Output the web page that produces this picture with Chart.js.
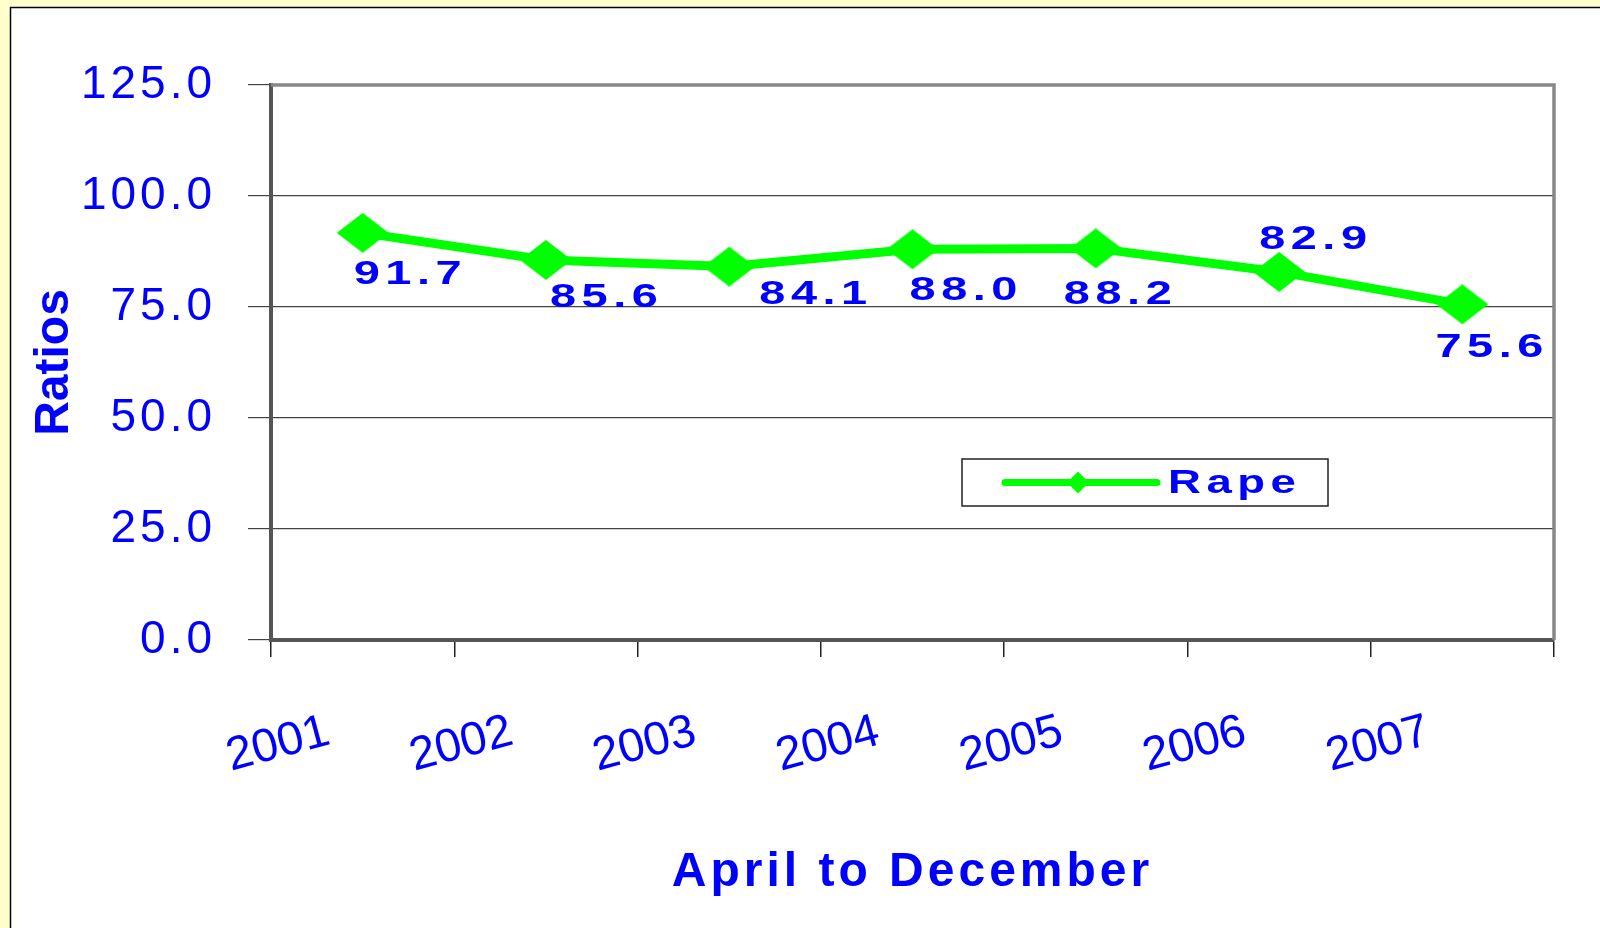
<!DOCTYPE html>
<html>
<head>
<meta charset="utf-8">
<title>Rape ratios, April to December</title>
<script src="https://cdn.jsdelivr.net/npm/chart.js@4.4.1/dist/chart.umd.min.js"></script>
<style>
  html, body { margin: 0; padding: 0; background: #FFFFCC; }
  canvas { display: block; }
</style>
</head>
<body>
<canvas id="ratioChart" width="1600" height="928"></canvas>
<script>
// ===== Data =====
const years = ['2001', '2002', '2003', '2004', '2005', '2006', '2007'];
const rapeRatios = [91.7, 85.6, 84.1, 88.0, 88.2, 82.9, 75.6];
const yTicks = [0, 25, 50, 75, 100, 125];

// label nudges (px) from each point, like the hand-placed labels in the original
const labelNudges = [[45, 42], [58, 38], [84, 28], [51, 41], [22, 46], [34, -32], [27, 43]];

const BLUE = '#0000FF';
const GREEN = '#00FF00';
const FONT = '"Liberation Sans", Arial, sans-serif';

// ===== Diamond marker (a little wider than tall) =====
function makeDiamond(w, h) {
    const c = document.createElement('canvas');
    c.width = w; c.height = h;
    const g = c.getContext('2d');
    g.fillStyle = GREEN;
    g.beginPath();
    g.moveTo(w / 2, 0);
    g.lineTo(w, h / 2);
    g.lineTo(w / 2, h);
    g.lineTo(0, h / 2);
    g.closePath();
    g.fill();
    return c;
}
const bigDiamond = makeDiamond(52, 40);

// Excel stretched its bold labels sideways; do the same here
function wideText(ctx, text, cx, cy, stretch, spacing, align) {
    ctx.save();
    ctx.translate(cx, cy);
    ctx.scale(stretch, 1);
    ctx.letterSpacing = spacing + 'px';
    ctx.textAlign = align;
    ctx.textBaseline = 'middle';
    const shift = align === 'center' ? spacing / 2 : 0;
    ctx.fillText(text, shift, 0);
    ctx.restore();
}

// ===== Plugins =====
// small layers slotted between the scale layers, to switch letter spacing:
// x title (grid z -2) spaced, y title (grid z -1) tight, y ticks (z 0) spaced
const spacingSteps = {
    id: 'spacingSteps',
    beforeInit(chart) {
        [[-1.5, '0px'], [-0.5, '4px']].forEach(([z, spacing]) => {
            Chart.layouts.addBox(chart, {
                position: 'chartArea',
                weight: 0,
                fullSize: false,
                options: {},
                isHorizontal() { return false; },
                update() {},
                draw() {},
                _layers() {
                    return [{z: z, draw: () => { chart.ctx.letterSpacing = spacing; }}];
                }
            });
        });
    }
};

const panelBackground = {
    id: 'panelBackground',
    beforeDraw(chart) {
        const ctx = chart.ctx;
        ctx.save();
        ctx.fillStyle = '#FFFFCC';
        ctx.fillRect(0, 0, chart.width, chart.height);
        ctx.fillStyle = '#FFFFFF';
        ctx.fillRect(10.5, 7.5, chart.width, chart.height);
        ctx.strokeStyle = '#000000';
        ctx.lineWidth = 1.5;
        ctx.strokeRect(10.5, 7.5, chart.width + 10, chart.height + 10);
        ctx.restore();
        ctx.letterSpacing = '4px';
    }
};

const plotFrame = {
    id: 'plotFrame',
    beforeDatasetsDraw(chart) {
        const {ctx, chartArea: a} = chart;
        ctx.save();
        ctx.strokeStyle = '#888888';
        ctx.lineWidth = 3.5;
        ctx.beginPath();
        ctx.moveTo(a.left, a.top);
        ctx.lineTo(a.right, a.top);
        ctx.lineTo(a.right, a.bottom);
        ctx.stroke();
        ctx.restore();
    },
    afterDatasetsDraw(chart) {
        // x tick labels (z: 1) come after this, with normal spacing
        chart.ctx.letterSpacing = '0px';
    }
};

const valueLabels = {
    id: 'valueLabels',
    afterDatasetsDraw(chart) {
        const ctx = chart.ctx;
        const meta = chart.getDatasetMeta(0);
        ctx.save();
        ctx.font = 'bold 34px ' + FONT;
        ctx.fillStyle = BLUE;
        meta.data.forEach((pt, i) => {
            const [dx, dy] = labelNudges[i];
            wideText(ctx, rapeRatios[i].toFixed(1), pt.x + dx, pt.y + dy, 1.38, 4, 'center');
        });
        ctx.restore();
    }
};

const boxLegend = {
    id: 'boxLegend',
    afterDraw(chart) {
        const ctx = chart.ctx;
        const ds = chart.data.datasets[0];
        const box = {x: 962, y: 459, w: 366, h: 47};
        const midY = box.y + box.h / 2;
        ctx.save();
        ctx.strokeStyle = '#222222';
        ctx.lineWidth = 1.5;
        ctx.strokeRect(box.x, box.y, box.w, box.h);
        ctx.strokeStyle = ds.borderColor;
        ctx.lineWidth = 7;
        ctx.lineCap = 'round';
        ctx.beginPath();
        ctx.moveTo(box.x + 43, midY);
        ctx.lineTo(box.x + 195, midY);
        ctx.stroke();
        ctx.fillStyle = ds.borderColor;
        ctx.beginPath();
        ctx.moveTo(box.x + 116, midY - 11);
        ctx.lineTo(box.x + 127, midY);
        ctx.lineTo(box.x + 116, midY + 11);
        ctx.lineTo(box.x + 105, midY);
        ctx.closePath();
        ctx.fill();
        ctx.font = 'bold 33px ' + FONT;
        ctx.fillStyle = BLUE;
        wideText(ctx, ds.label, box.x + 206, midY + 1, 1.38, 4, 'left');
        ctx.restore();
    }
};

// ===== Chart =====
const ctx = document.getElementById('ratioChart').getContext('2d');
const ratioChart = new Chart(ctx, {
    type: 'line',
    data: {
        labels: years,
        datasets: [{
            label: 'Rape',
            data: rapeRatios,
            borderColor: GREEN,
            backgroundColor: GREEN,
            borderWidth: 9,
            tension: 0,
            pointStyle: bigDiamond,
            pointRadius: 26,
            pointHoverRadius: 26
        }]
    },
    options: {
        responsive: false,
        animation: false,
        devicePixelRatio: 1,
        layout: {
            padding: {left: 20, top: 85, right: 46, bottom: 0}
        },
        plugins: {
            legend: {display: false},
            tooltip: {enabled: false}
        },
        scales: {
            x: {
                offset: true,
                afterFit: (scale) => { scale.height = 288; },
                grid: {
                    z: -2,
                    offset: true,
                    drawOnChartArea: false,
                    drawTicks: true,
                    tickLength: 17,
                    color: '#222222',
                    lineWidth: 1.5
                },
                border: {color: '#555555', width: 4},
                ticks: {
                    z: 1,
                    color: BLUE,
                    font: {family: FONT, size: 47},
                    minRotation: 15,
                    maxRotation: 15,
                    autoSkip: false,
                    padding: 47,
                    labelOffset: -34
                },
                title: {
                    display: true,
                    text: 'April to December',
                    color: BLUE,
                    font: {family: FONT, size: 48, weight: 'bold'},
                    padding: {top: 0, bottom: 26}
                }
            },
            y: {
                min: yTicks[0],
                max: yTicks[yTicks.length - 1],
                afterFit: (scale) => { scale.width = 251; },
                afterBuildTicks: (scale) => {
                    scale.ticks = yTicks.map(v => ({value: v}));
                },
                grid: {
                    z: -1,
                    color: '#444444',
                    lineWidth: 1.2,
                    tickLength: 23
                },
                border: {color: '#555555', width: 4},
                ticks: {
                    color: BLUE,
                    font: {family: FONT, size: 46},
                    padding: 32,
                    callback: (v) => Number(v).toFixed(1)
                },
                title: {
                    display: true,
                    text: 'Ratios',
                    color: BLUE,
                    font: {family: FONT, size: 48, weight: 'bold'},
                    padding: {top: 6, bottom: 0}
                }
            }
        }
    },
    plugins: [spacingSteps, panelBackground, plotFrame, valueLabels, boxLegend]
});
</script>
</body>
</html>
